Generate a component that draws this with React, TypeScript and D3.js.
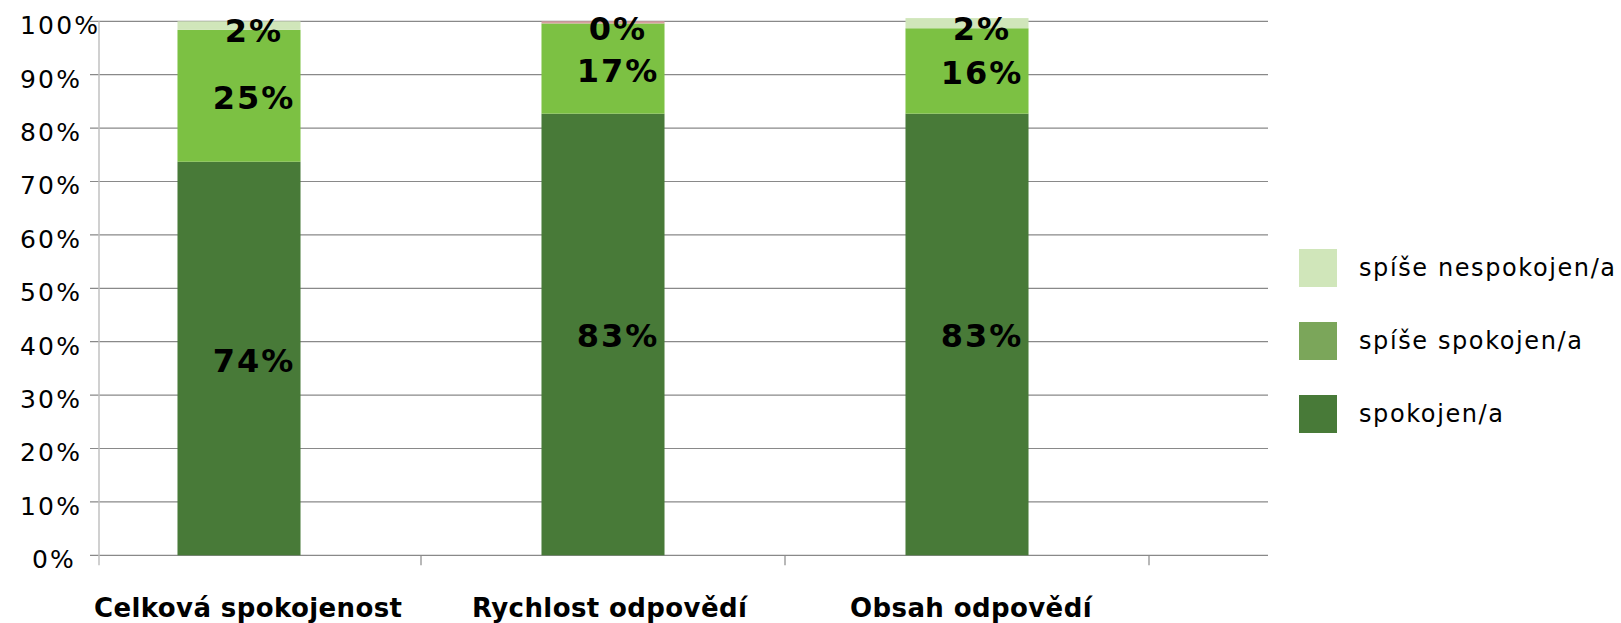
import * as d3 from 'd3';
import React, {useEffect, useRef} from 'react';

const categories = ['Celková spokojenost', 'Rychlost odpovědí', 'Obsah odpovědí'];
// series, bottom to top (percent)
const spokojen = [73.7, 82.7, 82.7];
const spiseSpokojen = [24.7, 16.9, 16.0];
const spiseNespokojen = [1.6, 0, 1.9];
const nespokojen = [0, 0.4, 0];

const seriesNames = ['spokojen/a', 'spíše spokojen/a', 'spíše nespokojen/a', 'nespokojen/a'];
const barColors = ['#487a38', '#7cc143', '#d0e6ba', '#d8a0a0'];
const legendColors = ['#487a38', '#7ba65a', '#d0e6ba'];
const showLabels = [true, true, true, false];
const yTicks = [0, 10, 20, 30, 40, 50, 60, 70, 80, 90, 100];

const W = 1621;
const H = 623;

function App() {
  const ref = useRef<SVGSVGElement | null>(null);

  useEffect(() => {
    document.body.style.margin = '0';
    const svg = d3.select(ref.current);
    svg.selectAll('*').remove();
    const font = '"DejaVu Sans", Verdana, sans-serif';

    const y = d3.scaleLinear().domain([0, 100]).range([555.3, 21.3]);
    const x = d3.scaleBand<string>()
      .domain(categories)
      .range([57, 1149])
      .paddingInner(0.662)
      .paddingOuter(0.331);
    const bw = x.bandwidth();
    const step = x.step();
    const labelX = d3.scalePoint<string>().domain(categories).range([94, 850]);

    // gridlines
    svg.append('g')
      .selectAll('line')
      .data(yTicks)
      .enter()
      .append('line')
      .attr('x1', 90)
      .attr('x2', 1268)
      .attr('y1', d => y(d))
      .attr('y2', d => y(d))
      .attr('stroke', '#898989')
      .attr('stroke-width', 1.2);

    // y axis line
    svg.append('line')
      .attr('x1', 99).attr('x2', 99)
      .attr('y1', y(100)).attr('y2', y(0) + 10)
      .attr('stroke', '#c0c0c0')
      .attr('stroke-width', 1.5);

    // category ticks on x axis
    svg.append('g')
      .selectAll('line')
      .data(categories)
      .enter()
      .append('line')
      .attr('x1', d => (x(d) as number) + bw / 2 + step / 2)
      .attr('x2', d => (x(d) as number) + bw / 2 + step / 2)
      .attr('y1', y(0))
      .attr('y2', y(0) + 10)
      .attr('stroke', '#898989')
      .attr('stroke-width', 1.2);

    // y tick labels
    const tl = svg.append('g')
      .selectAll('text')
      .data(yTicks)
      .enter()
      .append('text')
      .attr('x', 76)
      .attr('y', d => y(d) + 12.8)
      .attr('text-anchor', 'end')
      .attr('font-family', font)
      .attr('font-size', 25)
      .attr('letter-spacing', 2.2)
      .attr('fill', '#000')
      .text(d => d + '%');
    tl.each(function() {
      const el = this as SVGTextElement;
      const b = el.getBBox();
      if (b.x < 20) {
        d3.select(el).attr('text-anchor', 'start').attr('x', 20);
      }
    });

    // stacked bars
    const rows = categories.map((c, i) => ({
      cat: c,
      v0: spokojen[i], v1: spiseSpokojen[i], v2: spiseNespokojen[i], v3: nespokojen[i]
    }));
    const stack = d3.stack<any>().keys(['v0', 'v1', 'v2', 'v3']);
    const layers = stack(rows);

    const g = svg.append('g');
    layers.forEach((layer, li) => {
      g.append('g')
        .attr('fill', barColors[li])
        .selectAll('rect')
        .data(layer)
        .enter()
        .append('rect')
        .attr('x', d => x(d.data.cat) as number)
        .attr('width', bw)
        .attr('y', d => y(d[1]))
        .attr('height', d => Math.max(0, y(d[0]) - y(d[1])));
    });

    // data labels
    layers.forEach((layer, li) => {
      if (!showLabels[li]) return;
      g.append('g')
        .selectAll('text')
        .data(layer)
        .enter()
        .append('text')
        .attr('x', d => (x(d.data.cat) as number) + bw / 2 + 15)
        .attr('y', d => {
          const v = d[1] - d[0];
          return (y(d[0]) + y(d[1])) / 2 + (v < 3 ? 16.5 : 13);
        })
        .attr('text-anchor', 'middle')
        .attr('font-family', font)
        .attr('font-weight', 'bold')
        .attr('font-size', 32)
        .attr('letter-spacing', 2)
        .attr('fill', '#000')
        .text(d => Math.round(d[1] - d[0]) + '%');
    });

    // category labels
    svg.append('g')
      .selectAll('text')
      .data(categories)
      .enter()
      .append('text')
      .attr('x', d => labelX(d) as number)
      .attr('y', 617)
      .attr('font-family', font)
      .attr('font-weight', 'bold')
      .attr('font-size', 26)
      .attr('letter-spacing', 0.4)
      .attr('fill', '#000')
      .text(d => d);

    // legend (top to bottom: reverse of stack order)
    const legendItems = [2, 1, 0];
    const lg = svg.append('g')
      .selectAll('g')
      .data(legendItems)
      .enter()
      .append('g')
      .attr('transform', (d, i) => 'translate(1299,' + (249 + i * 73) + ')');
    lg.append('rect')
      .attr('width', 38)
      .attr('height', 38)
      .attr('fill', d => legendColors[d]);
    lg.append('text')
      .attr('x', 60)
      .attr('y', 27)
      .attr('font-family', font)
      .attr('font-size', 24)
      .attr('letter-spacing', 1.6)
      .attr('fill', '#000')
      .text(d => seriesNames[d]);
  }, []);

  return (
    <svg ref={ref} width={W} height={H} style={{display: 'block', background: '#fff'}}></svg>
  );
}

export default App;
